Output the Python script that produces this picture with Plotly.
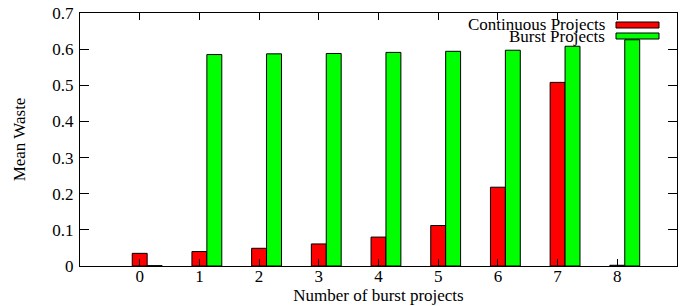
import plotly.graph_objects as go

categories = [0, 1, 2, 3, 4, 5, 6, 7, 8]
continuous = [0.035, 0.040, 0.049, 0.061, 0.080, 0.112, 0.218, 0.508, 0.002]
burst = [0.001, 0.585, 0.587, 0.588, 0.591, 0.594, 0.597, 0.608, 0.626]
series_names = ["Continuous Projects", "Burst Projects"]
colors = ["#ff0000", "#00ff00"]
y_ticks = [0, 0.1, 0.2, 0.3, 0.4, 0.5, 0.6, 0.7]

FONT = "Liberation Serif, Times New Roman, serif"
FS = 17

fig = go.Figure()
fig.add_trace(go.Bar(x=categories, y=continuous, name=series_names[0],
                     width=0.25, offset=-0.125,
                     marker=dict(color=colors[0], line=dict(color="black", width=1))))
fig.add_trace(go.Bar(x=categories, y=burst, name=series_names[1],
                     width=0.25, offset=0.125,
                     marker=dict(color=colors[1], line=dict(color="black", width=1))))

W, H = 694, 306
# plot area on screen: x 80..677, y 13..266
L, R, T, B = 80, W - 677, 13, H - 266
pw = W - L - R
ph = H - T - B

def px(xs):
    return (xs - L) / pw

def py(ys):
    return 1 - (ys - T) / ph

# legend (gnuplot-style: right-aligned text, key box on the right)
leg_rows = [(series_names[0], colors[0], 25.0), (series_names[1], colors[1], 36.0)]
for name, col, yc in leg_rows:
    fig.add_annotation(text=name, xref="paper", yref="paper", x=px(607), y=py(yc),
                       xanchor="right", yanchor="middle", showarrow=False,
                       font=dict(family=FONT, size=FS, color="black"))
    fig.add_shape(type="rect", xref="paper", yref="paper",
                  x0=px(616), x1=px(659), y0=py(yc - 3), y1=py(yc + 3),
                  fillcolor=col, line=dict(color="black", width=1))

fig.update_layout(
    width=W, height=H,
    margin=dict(l=L, r=R, t=T, b=B, autoexpand=False),
    plot_bgcolor="white", paper_bgcolor="white",
    barmode="overlay",
    showlegend=False,
    font=dict(family=FONT, size=FS, color="black"),
    xaxis=dict(range=[-1, 9], tickvals=categories, ticktext=[str(c) for c in categories],
               ticks="inside", ticklen=7, tickcolor="black", showline=True, linecolor="black",
               linewidth=1, mirror="ticks", showgrid=False, zeroline=False,
               layer="above traces", automargin=False, ticklabelstandoff=-5,
               ticklabeloverflow="allow",
               title=dict(text="Number of burst projects", standoff=0,
                          font=dict(family=FONT, size=FS))),
    yaxis=dict(range=[0, 0.7], tickvals=y_ticks, ticktext=[("%g" % v) for v in y_ticks],
               ticks="inside", ticklen=9, tickcolor="black", showline=True, linecolor="black",
               linewidth=1, mirror="ticks", showgrid=False, zeroline=False,
               layer="above traces", automargin=False, ticklabelstandoff=2,
               ticklabeloverflow="allow",
               title=dict(text="Mean Waste", standoff=22,
                          font=dict(family=FONT, size=FS))),
)

fig.write_html("out.html",
               config={"displayModeBar": False},
               post_script="document.body.style.margin='0';document.body.style.overflow='hidden';")
